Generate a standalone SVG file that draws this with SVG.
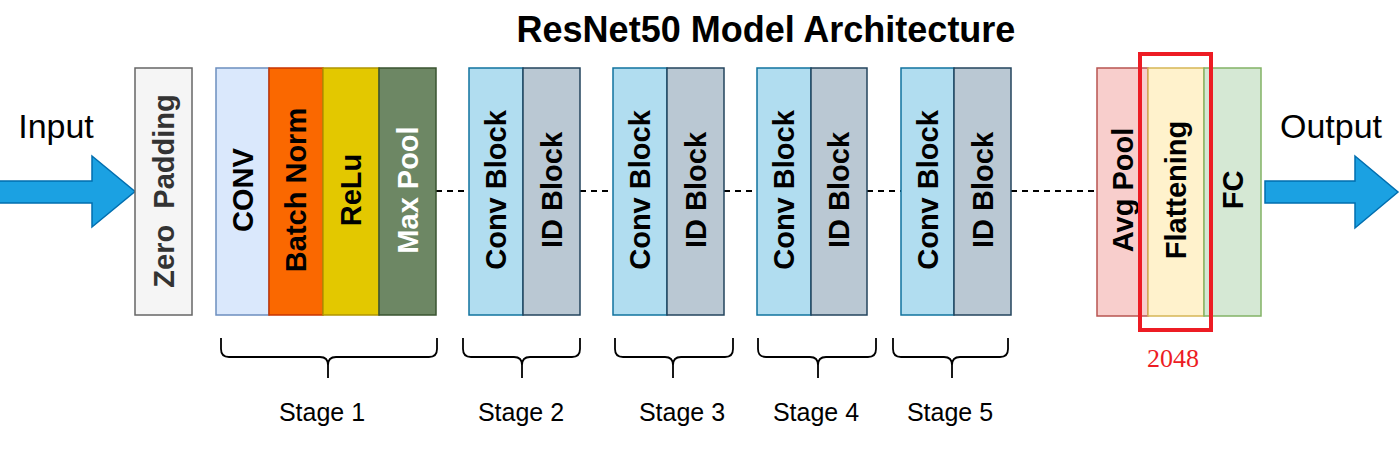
<svg xmlns="http://www.w3.org/2000/svg" width="1400" height="451" viewBox="0 0 1400 451">
<style>
.blk{stroke-width:1.5}
.lbl{font-family:"Liberation Sans",Arial,sans-serif;font-weight:bold;font-size:29px;text-anchor:middle;dominant-baseline:central;fill:#000}
.big{font-family:"Liberation Sans",Arial,sans-serif;font-size:34px;text-anchor:middle;fill:#000}
.stage{font-family:"Liberation Sans",Arial,sans-serif;font-size:25px;text-anchor:middle;fill:#000}
.brace{fill:none;stroke:#000;stroke-width:1.8}
.dash{stroke:#000;stroke-width:2;stroke-dasharray:6 5;fill:none}
.arrow{fill:#1ba1e2;stroke:#006eaf;stroke-width:1.5}
.cb{fill:#b1ddf0;stroke:#10739e}
.id{fill:#bac8d3;stroke:#23445d}
</style>
<rect width="1400" height="451" fill="#fff"/>
<text x="766" y="42" style="font-family:'Liberation Sans',Arial,sans-serif;font-weight:bold;font-size:36px;text-anchor:middle;fill:#000">ResNet50 Model Architecture</text>

<g id="connectors">
<line class="dash" x1="436" y1="191" x2="469" y2="191"/>
<line class="dash" x1="580" y1="191" x2="613" y2="191"/>
<line class="dash" x1="724" y1="191" x2="757" y2="191"/>
<line class="dash" x1="867" y1="191" x2="901" y2="191"/>
<line class="dash" x1="1011" y1="191" x2="1097" y2="191"/>
</g>

<g id="input">
<text class="big" x="56" y="138">Input</text>
<path class="arrow" d="M-2,181 L92,181 L92,156 L135,191.5 L92,227 L92,203 L-2,203 Z"/>
</g>

<g id="zero-padding">
<rect class="blk" x="135" y="68" width="57" height="247" fill="#f5f5f5" stroke="#666"/>
<text class="lbl" transform="translate(163.5,191) rotate(-90)" style="fill:#333" xml:space="preserve">Zero  Padding</text>
</g>

<g id="conv">
<rect class="blk" x="216" y="68" width="53" height="247" fill="#dae8fc" stroke="#6c8ebf"/>
<text class="lbl" transform="translate(242.5,190) rotate(-90)">CONV</text>
</g>
<g id="batch-norm">
<rect class="blk" x="269" y="68" width="54" height="247" fill="#fa6800" stroke="#c73500"/>
<text class="lbl" transform="translate(296,190) rotate(-90)">Batch Norm</text>
</g>
<g id="relu">
<rect class="blk" x="323" y="68" width="56" height="247" fill="#e3c800" stroke="#b09500"/>
<text class="lbl" transform="translate(351,190) rotate(-90)">ReLu</text>
</g>
<g id="max-pool">
<rect class="blk" x="379" y="68" width="57" height="247" fill="#6d8764" stroke="#3a5431"/>
<text class="lbl" transform="translate(407.5,190) rotate(-90)" style="fill:#fff">Max Pool</text>
</g>

<g id="stage2-conv"><rect class="blk cb" x="469" y="68" width="54" height="247"/><text class="lbl" transform="translate(496,190) rotate(-90)">Conv Block</text></g>
<g id="stage2-id"><rect class="blk id" x="523" y="68" width="57" height="247"/><text class="lbl" transform="translate(551.5,190) rotate(-90)">ID Block</text></g>
<g id="stage3-conv"><rect class="blk cb" x="613" y="68" width="54" height="247"/><text class="lbl" transform="translate(640,190) rotate(-90)">Conv Block</text></g>
<g id="stage3-id"><rect class="blk id" x="667" y="68" width="57" height="247"/><text class="lbl" transform="translate(695.5,190) rotate(-90)">ID Block</text></g>
<g id="stage4-conv"><rect class="blk cb" x="757" y="68" width="54" height="247"/><text class="lbl" transform="translate(784,190) rotate(-90)">Conv Block</text></g>
<g id="stage4-id"><rect class="blk id" x="811" y="68" width="56" height="247"/><text class="lbl" transform="translate(839,190) rotate(-90)">ID Block</text></g>
<g id="stage5-conv"><rect class="blk cb" x="901" y="68" width="53" height="247"/><text class="lbl" transform="translate(927.5,190) rotate(-90)">Conv Block</text></g>
<g id="stage5-id"><rect class="blk id" x="954" y="68" width="57" height="247"/><text class="lbl" transform="translate(982.5,190) rotate(-90)">ID Block</text></g>

<g id="avg-pool">
<rect class="blk" x="1097" y="68" width="51" height="248" fill="#f8cecc" stroke="#b85450"/>
<text class="lbl" transform="translate(1123,190) rotate(-90)">Avg Pool</text>
</g>
<g id="flattening">
<rect class="blk" x="1148" y="68" width="56" height="248" fill="#fff2cc" stroke="#d6b656"/>
<text class="lbl" transform="translate(1176,190) rotate(-90)">Flattening</text>
</g>
<g id="fc">
<rect class="blk" x="1204" y="68" width="57" height="248" fill="#d5e8d4" stroke="#82b366"/>
<text class="lbl" transform="translate(1232.5,190) rotate(-90)">FC</text>
</g>
<g id="highlight">
<rect x="1140" y="54" width="71" height="276" fill="none" stroke="#ed1c24" stroke-width="4"/>
<text x="1173" y="367" style="font-family:'Liberation Serif','Times New Roman',serif;font-size:26px;text-anchor:middle;fill:#ed1c24">2048</text>
</g>

<g id="output">
<text class="big" x="1331" y="138">Output</text>
<path class="arrow" d="M1265,181 L1355,181 L1355,156 L1398,192 L1355,228 L1355,203 L1265,203 Z"/>
</g>

<g id="braces">
<path class="brace" d="M221,338 L221,349 Q221,357 229,357 L320,357 Q328,357 328,365 L328,378 M328,365 Q328,357 336,357 L429,357 Q437,357 437,349 L437,338"/>
<path class="brace" d="M463,338 L463,349 Q463,357 471,357 L514,357 Q522,357 522,365 L522,378 M522,365 Q522,357 530,357 L572,357 Q580,357 580,349 L580,338"/>
<path class="brace" d="M615,338 L615,349 Q615,357 623,357 L665,357 Q673,357 673,365 L673,378 M673,365 Q673,357 681,357 L725,357 Q733,357 733,349 L733,338"/>
<path class="brace" d="M758,338 L758,349 Q758,357 766,357 L810,357 Q818,357 818,365 L818,378 M818,365 Q818,357 826,357 L868,357 Q876,357 876,349 L876,338"/>
<path class="brace" d="M893,338 L893,349 Q893,357 901,357 L944,357 Q952,357 952,365 L952,378 M952,365 Q952,357 960,357 L1000,357 Q1008,357 1008,349 L1008,338"/>
</g>

<g id="stage-labels">
<text class="stage" x="322" y="421">Stage 1</text>
<text class="stage" x="521" y="421">Stage 2</text>
<text class="stage" x="682" y="421">Stage 3</text>
<text class="stage" x="816" y="421">Stage 4</text>
<text class="stage" x="950" y="421">Stage 5</text>
</g>
</svg>
